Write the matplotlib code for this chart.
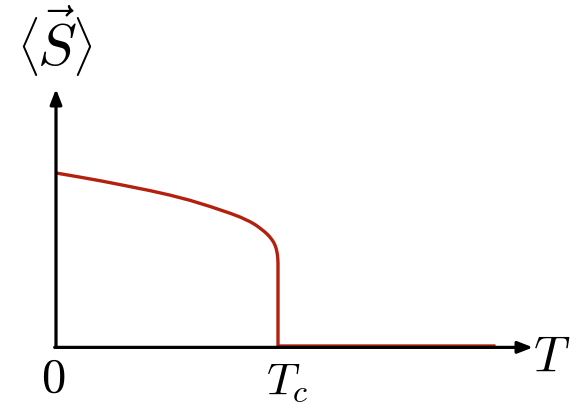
import matplotlib
matplotlib.use("Agg")
import matplotlib.pyplot as plt

plt.rcParams["mathtext.fontset"] = "cm"

# Order parameter versus temperature (temperature in units of Tc,
# magnetisation normalised to its T = 0 value)
temperature = [0.0, 0.10, 0.20, 0.30, 0.424, 0.514, 0.604, 0.695, 0.785,
               0.83, 0.875, 0.90, 0.920, 0.937, 0.950, 0.962, 0.973, 0.981,
               0.988, 0.992, 0.995, 0.9975, 0.999, 1.0, 1.0, 1.98]
magnetisation = [1.0, 0.978, 0.955, 0.930, 0.898, 0.872, 0.842, 0.806, 0.767,
                 0.745, 0.718, 0.699, 0.680, 0.663, 0.648, 0.632, 0.614, 0.598,
                 0.578, 0.562, 0.545, 0.525, 0.505, 0.480, 0.0, 0.0]

x_label = r"$T$"
y_label_parts = [r"$\langle$", r"$\vec{S}$", r"$\rangle$"]
tick_labels = [r"$0$", r"$T_c$"]

W, H = 582, 414
fig = plt.figure(figsize=(W / 100, H / 100), dpi=100)
ax = fig.add_axes([0, 0, 1, 1])

# pixel layout: origin at (56, 347), Tc at x = 278, M(0) at y = 174
ox, oy, sx, sy = 56.0, 347.0, 222.0, 173.0
ax.set_xlim(-ox / sx, (W - ox) / sx)
ax.set_ylim(-(H - oy) / sy, oy / sy)
ax.axis("off")

ax.plot(temperature, magnetisation, color="#b3200e", lw=2.4,
        solid_capstyle="butt", solid_joinstyle="round", zorder=2)

# axes with arrow heads
arrow = dict(arrowstyle="-|>,head_length=0.9,head_width=0.35",
             color="black", lw=2.3, shrinkA=0, shrinkB=0)
ax.annotate("", xy=(0, (oy - 90) / sy), xytext=(0, -0.008),
            arrowprops=arrow, zorder=3)
ax.annotate("", xy=((533 - ox) / sx, -0.008), xytext=(-0.006, -0.008),
            arrowprops=arrow, zorder=3)


def fig_pos(px, py):
    return px / W, 1 - py / H


# y label built from bracket, vector and bracket for tight spacing
fig.text(*fig_pos(28, 46), y_label_parts[0], fontsize=35, ha="center",
         va="center")
fig.text(*fig_pos(56.5, 66), y_label_parts[1], fontsize=42, ha="center",
         va="baseline")
fig.text(*fig_pos(82.5, 46), y_label_parts[2], fontsize=35, ha="center",
         va="center")

fig.text(*fig_pos(552, 371), x_label, fontsize=36, ha="center",
         va="baseline")
fig.text(*fig_pos(53, 392), tick_labels[0], fontsize=35, ha="center",
         va="baseline")
fig.text(*fig_pos(287, 395), tick_labels[1], fontsize=33, ha="center",
         va="baseline")

fig.savefig("out.png", dpi=100, facecolor="white")
